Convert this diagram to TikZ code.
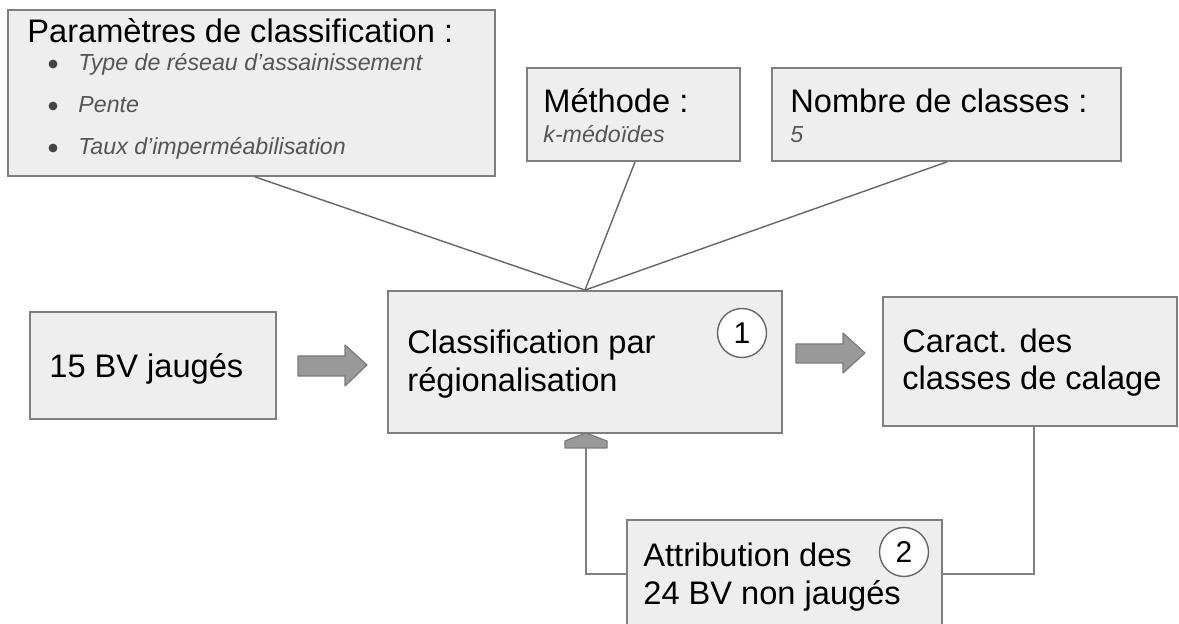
\documentclass[tikz,border=0pt]{standalone}
\usepackage{fontspec}
\setmainfont{Liberation Sans}
\usetikzlibrary{fit}
\definecolor{boxfill}{HTML}{EEEEEE}
\definecolor{boxline}{HTML}{7F7F7F}
\definecolor{conline}{HTML}{666666}
\definecolor{subtext}{HTML}{555555}
\definecolor{bulletcol}{HTML}{444444}
\definecolor{arrowfill}{HTML}{999999}
\definecolor{arrowline}{HTML}{7A7A7A}
\begin{document}
\begin{tikzpicture}[x=0.5pt,y=-0.5pt,
  boxnode/.style={draw=boxline,fill=boxfill,line width=0.9pt,inner sep=0pt,rectangle},
  txt/.style={anchor=base west,inner sep=0pt,font=\fontsize{16.3}{19}\selectfont,text=black},
  subtxt/.style={anchor=base west,inner sep=0pt,font=\fontsize{11.6}{14}\selectfont\itshape,text=subtext},
  numcircle/.style={circle,draw=conline,fill=white,line width=0.7pt,minimum size=24.5pt,inner sep=0pt,font=\fontsize{15}{15}\selectfont},
  conn/.style={draw=conline,line width=0.7pt},
  blockarrow/.style={fill=arrowfill,draw=arrowline,line width=0.6pt,line join=round}
]
\useasboundingbox (0,0) rectangle (1179,624);
\clip (0,0) rectangle (1179,624);

% boxes
\node[boxnode,fit={(8,10) (495,176)}] (par) {};
\node[boxnode,fit={(527,68) (740,161)}] (meth) {};
\node[boxnode,fit={(772,68) (1121,161)}] (nb) {};
\node[boxnode,fit={(30,312) (276,419)}] (bv) {};
\node[boxnode,fit={(388,291) (782,433)}] (cl) {};
\node[boxnode,fit={(883,297) (1177,426)}] (car) {};
\node[boxnode,fit={(627,520) (942,628)}] (att) {};

% texts
\node[txt] (t1) at (27,43) {Paramètres de classification :};
\fill[bulletcol] (53,64) circle[radius=2.2pt];
\fill[bulletcol] (53,106) circle[radius=2.2pt];
\fill[bulletcol] (53,148) circle[radius=2.2pt];
\node[subtxt] (p1) at (78,71) {Type de réseau d’assainissement};
\node[subtxt] (p2) at (78,113) {Pente};
\node[subtxt] (p3) at (78,155) {Taux d’imperméabilisation};

\node[txt] (t2) at (543,113) {Méthode :};
\node[subtxt] (s2) at (543,143) {k-médoïdes};
\node[txt] (t3) at (790,113) {Nombre de classes :};
\node[subtxt] (s3) at (790,143) {5};

\node[txt] (t4) at (49,378) {15 BV jaugés};
\node[txt] (t5a) at (407,354) {Classification par};
\node[txt] (t5b) at (407,392) {régionalisation};
\node[txt] (t6a) at (902,353) {Caract. des};
\node[txt] (t6b) at (902,390) {classes de calage};
\node[txt] (t7a) at (643,567) {Attribution des};
\node[txt] (t7b) at (643,605) {24 BV non jaugés};

\node[numcircle] (n1) at (742,333) {1};
\node[numcircle] (n2) at (904,552) {2};

% converging connectors
\coordinate (a1) at (255,0 |- par.south);
\coordinate (a2) at (635,0 |- meth.south);
\coordinate (a3) at (947,0 |- nb.south);
\draw[conn] (a1) -- (cl.north);
\draw[conn] (a2) -- (cl.north);
\draw[conn] (a3) -- (cl.north);

% block arrows
\draw[blockarrow] (298,356) -- (345,356) -- (345,345) -- (367,365) -- (345,386) -- (345,376) -- (298,376) -- cycle;
\draw[blockarrow] (796,344) -- (843,344) -- (843,333) -- (865,353) -- (843,373) -- (843,363) -- (796,363) -- cycle;

% feedback connectors
\coordinate (up) at (586,448);
\coordinate (dn) at (1034,0 |- car.south);
\draw[conn,line width=0.9pt,draw=boxline] (att.west) -| (up);
\draw[blockarrow] (565,448) -- (565,441) -- (586,433) -- (607,441) -- (607,448) -- cycle;
\draw[conn,line width=0.9pt,draw=boxline] (dn) |- (att.east);
\end{tikzpicture}
\end{document}
